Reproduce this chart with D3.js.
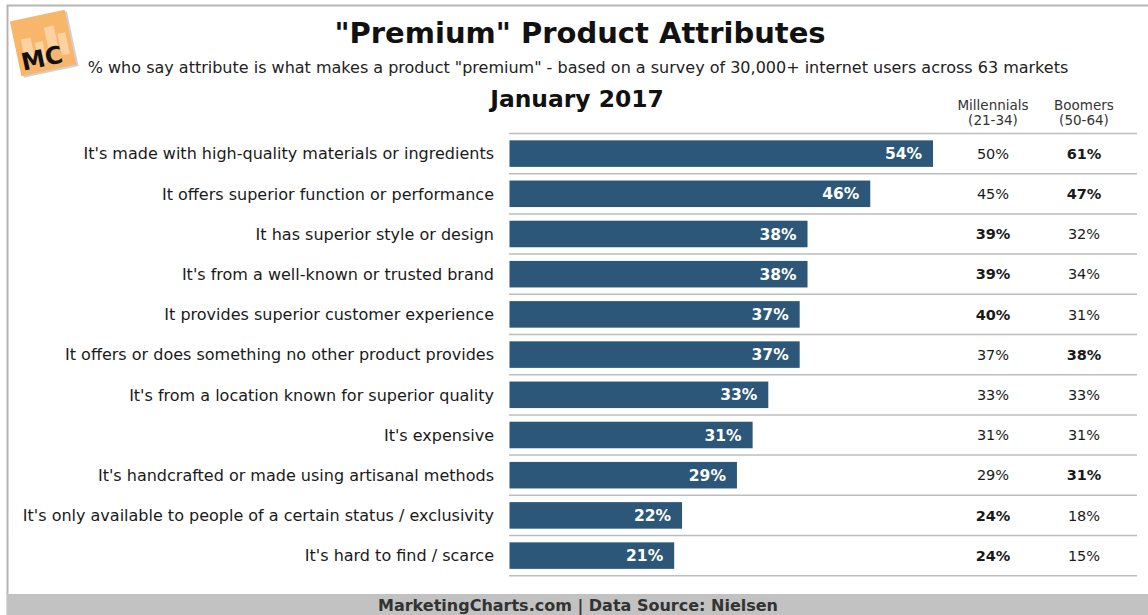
<!DOCTYPE html>
<html>
<head>
<meta charset="utf-8">
<script src="https://cdn.jsdelivr.net/npm/d3@7"></script>
<style>
  body { margin: 0; background: #fff; }
  text { font-family: "DejaVu Sans", Verdana, sans-serif; }
</style>
</head>
<body>
<div class="vis-barchart"></div>
<script>
// Data
const attributes = [
    "It's made with high-quality materials or ingredients",
    "It offers superior function or performance",
    "It has superior style or design",
    "It's from a well-known or trusted brand",
    "It provides superior customer experience",
    "It offers or does something no other product provides",
    "It's from a location known for superior quality",
    "It's expensive",
    "It's handcrafted or made using artisanal methods",
    "It's only available to people of a certain status / exclusivity",
    "It's hard to find / scarce"
];
const totalPct = [54, 46, 38, 38, 37, 37, 33, 31, 29, 22, 21];
const millennialsPct = [50, 45, 39, 39, 40, 37, 33, 31, 29, 24, 24];
const boomersPct = [61, 47, 32, 34, 31, 38, 33, 31, 31, 18, 15];

const W = 1148, H = 615;
const svg = d3.select('.vis-barchart').append('svg')
    .attr('width', W)
    .attr('height', H);

// frame
svg.append('path')
    .attr('d', 'M7.5,' + H + ' V5.5 H' + W)
    .attr('fill', 'none')
    .attr('stroke', '#b5b5b5')
    .attr('stroke-width', 2);

// logo
const logo = svg.append('g').attr('transform', 'translate(43,43) rotate(-12)');
logo.append('rect')
    .attr('x', -26).attr('y', -26).attr('width', 56).attr('height', 56)
    .attr('fill', '#9a9a9a').attr('opacity', 0.45);
logo.append('rect')
    .attr('x', -28).attr('y', -28).attr('width', 56).attr('height', 56)
    .attr('fill', '#f8b66a');
[[-21, -8, 10], [-8, -2, 8], [4, -15, 10], [16, -6, 8]].forEach(function(b) {
    logo.append('rect')
        .attr('x', b[0]).attr('y', b[1]).attr('width', b[2]).attr('height', 22)
        .attr('fill', '#fbd2a2');
});
logo.append('text')
    .attr('x', -25).attr('y', 23)
    .attr('font-size', 24).attr('font-weight', 'bold')
    .attr('fill', '#111')
    .text('MC');

// titles
svg.append('text')
    .attr('x', 580).attr('y', 43)
    .attr('text-anchor', 'middle')
    .attr('font-size', 29).attr('font-weight', 'bold')
    .attr('fill', '#111')
    .text('"Premium" Product Attributes');

svg.append('text')
    .attr('x', 578).attr('y', 73)
    .attr('text-anchor', 'middle')
    .attr('font-size', 16)
    .attr('fill', '#222')
    .text('% who say attribute is what makes a product "premium" - based on a survey of 30,000+ internet users across 63 markets');

svg.append('text')
    .attr('x', 577).attr('y', 107)
    .attr('text-anchor', 'middle')
    .attr('font-size', 23.4).attr('font-weight', 'bold')
    .attr('fill', '#111')
    .text('January 2017');

// column headers
const colX = {mill: 993, boom: 1084};
[['mill', 'Millennials', '(21-34)'], ['boom', 'Boomers', '(50-64)']].forEach(function(h) {
    const t = svg.append('text')
        .attr('text-anchor', 'middle')
        .attr('font-size', 13.5)
        .attr('fill', '#333');
    t.append('tspan').attr('x', colX[h[0]]).attr('y', 110).text(h[1]);
    t.append('tspan').attr('x', colX[h[0]]).attr('y', 125).text(h[2]);
});

// scales
const rowTop = 133.5, rowH = 40.2;
const y = d3.scaleBand()
    .domain(attributes)
    .range([rowTop, rowTop + rowH * attributes.length])
    .paddingInner(0.34)
    .paddingOuter(0.17);

const x = d3.scaleLinear()
    .domain([0, 54])
    .range([509.5, 933]);

// row separators
svg.append('g').selectAll('line')
    .data(d3.range(attributes.length + 1))
    .enter().append('line')
    .attr('x1', 509).attr('x2', 1137)
    .attr('y1', function(i) { return rowTop + rowH * i; })
    .attr('y2', function(i) { return rowTop + rowH * i; })
    .attr('stroke', '#bdbdbd')
    .attr('stroke-width', 1.5);

// bars
const rows = attributes.map(function(a, i) {
    return {name: a, total: totalPct[i], mill: millennialsPct[i], boom: boomersPct[i]};
});

svg.selectAll('.bar')
    .data(rows)
    .enter().append('rect')
    .attr('class', 'bar')
    .attr('x', x(0))
    .attr('y', function(d) { return y(d.name); })
    .attr('width', function(d) { return x(d.total) - x(0); })
    .attr('height', y.bandwidth())
    .attr('fill', '#2c5779');

svg.selectAll('.bar-label')
    .data(rows)
    .enter().append('text')
    .attr('class', 'bar-label')
    .attr('x', function(d) { return x(d.total) - 11; })
    .attr('y', function(d) { return y(d.name) + y.bandwidth() / 2; })
    .attr('dy', '0.36em')
    .attr('text-anchor', 'end')
    .attr('font-size', 15.5).attr('font-weight', 'bold')
    .attr('fill', '#fff')
    .text(function(d) { return d.total + '%'; });

// category labels
svg.selectAll('.cat')
    .data(rows)
    .enter().append('text')
    .attr('class', 'cat')
    .attr('x', 494)
    .attr('y', function(d) { return y(d.name) + y.bandwidth() / 2; })
    .attr('dy', '0.36em')
    .attr('text-anchor', 'end')
    .attr('font-size', 16)
    .attr('fill', '#1a1a1a')
    .text(function(d) { return d.name; });

// generation columns, higher value in bold
['mill', 'boom'].forEach(function(k) {
    const other = k === 'mill' ? 'boom' : 'mill';
    svg.selectAll('.col-' + k)
        .data(rows)
        .enter().append('text')
        .attr('class', 'col-' + k)
        .attr('x', colX[k])
        .attr('y', function(d) { return y(d.name) + y.bandwidth() / 2; })
        .attr('dy', '0.36em')
        .attr('text-anchor', 'middle')
        .attr('font-size', 14.5)
        .attr('font-weight', function(d) { return d[k] > d[other] ? 'bold' : 'normal'; })
        .attr('fill', '#1a1a1a')
        .text(function(d) { return d[k] + '%'; });
});

// footer
svg.append('rect')
    .attr('x', 7).attr('y', 594)
    .attr('width', W - 7).attr('height', H - 594)
    .attr('fill', '#c2c2c2');

svg.append('text')
    .attr('x', 578).attr('y', 611)
    .attr('text-anchor', 'middle')
    .attr('font-size', 16).attr('font-weight', 'bold')
    .attr('fill', '#333')
    .text('MarketingCharts.com | Data Source: Nielsen');
</script>
</body>
</html>
